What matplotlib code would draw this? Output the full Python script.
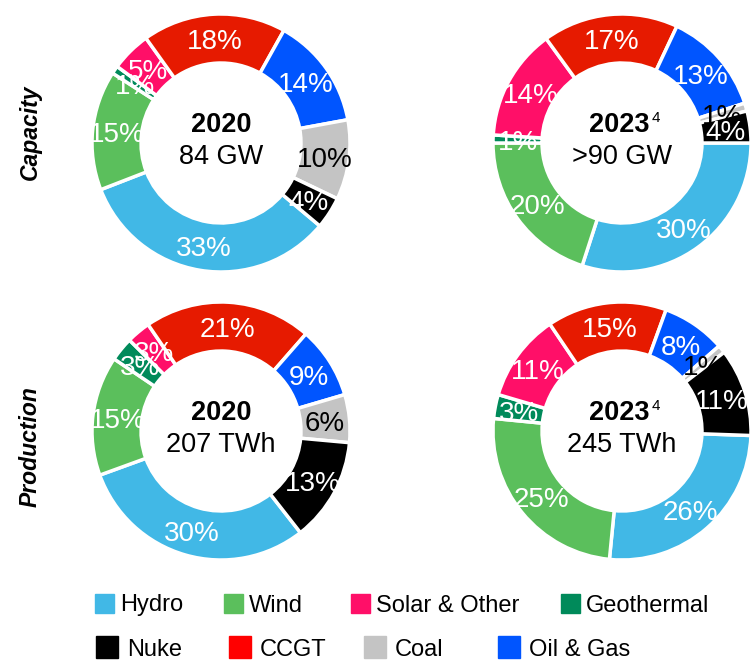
import numpy as np
import matplotlib.pyplot as plt
from matplotlib.patches import Rectangle

plt.rcParams['font.family'] = ['Liberation Sans', 'DejaVu Sans']

W, H = 751, 660

# generation mix, in %, clockwise from Hydro
sources = ['Hydro', 'Wind', 'Geothermal', 'Solar & Other', 'CCGT', 'Oil & Gas', 'Coal', 'Nuke']
colors = ['#41b8e6', '#5bbf5c', '#008a5a', '#ff0f68', '#e61a00', '#0055ff', '#c4c4c4', '#000000']
label_colors = ['white', 'white', 'white', 'white', 'white', 'white', 'black', 'white']

cap_2020 = [33, 15, 1, 5, 18, 14, 10, 4]
cap_2023 = [30, 20, 1, 14, 17, 13, 1, 4]
prod_2020 = [30, 15, 3, 3, 21, 9, 6, 13]
prod_2023 = [26, 25, 3, 11, 15, 8, 1, 11]

legend_row1 = ['Hydro', 'Wind', 'Solar & Other', 'Geothermal']
legend_row2 = ['Nuke', 'CCGT', 'Coal', 'Oil & Gas']
legend_colors = {'Hydro': '#41b8e6', 'Wind': '#5bbf5c', 'Solar & Other': '#ff0f68',
                 'Geothermal': '#008a5a', 'Nuke': '#000000', 'CCGT': '#ff0000',
                 'Coal': '#c4c4c4', 'Oil & Gas': '#0055ff'}

fig = plt.figure(figsize=(W / 100, H / 100), dpi=100)
R = 129


def donut(cx, cy, values, start, year, total, note=None):
    ax = fig.add_axes([(cx - R) / W, 1 - (cy + R) / H, 2 * R / W, 2 * R / H])
    wedges, _ = ax.pie(values, colors=colors, startangle=start, counterclock=False,
                       radius=1, wedgeprops=dict(width=0.38, edgecolor='white', linewidth=2.5))
    ax.set_xlim(-1, 1)
    ax.set_ylim(-1, 1)
    ax.axis('off')
    for w, v, tc in zip(wedges, values, label_colors):
        w.set_clip_on(False)
        a = np.deg2rad((w.theta1 + w.theta2) / 2)
        ax.text(0.81 * np.cos(a), 0.81 * np.sin(a), f'{v}%', ha='center', va='center_baseline',
                color=tc, fontsize=20)
    if note is None:
        ax.text(0, 0.085, year, ha='center', va='baseline', fontsize=19.5, fontweight='bold')
    else:
        ax.text(0.217, 0.085, year, ha='right', va='baseline', fontsize=19.5, fontweight='bold')
        ax.text(0.23, 0.16, note, ha='left', va='baseline', fontsize=11)
    ax.text(0, -0.16, total, ha='center', va='baseline', fontsize=19.5)


donut(221, 143, cap_2020, -40, '2020', '84 GW')
donut(622, 143, cap_2023, 0, '2023', '>90 GW', note='4')
donut(221, 431, prod_2020, -52, '2020', '207 TWh')
donut(622, 431, prod_2023, -2, '2023', '245 TWh', note='4')

fig.text(30 / W, 1 - 132 / H, 'Capacity', rotation=90, ha='center', va='center',
         fontsize=16.5, fontweight='bold', fontstyle='italic')
fig.text(30 / W, 1 - 447 / H, 'Production', rotation=90, ha='center', va='center',
         fontsize=16.5, fontweight='bold', fontstyle='italic')

# legend, two rows of swatches
for names, xs, cy, size, gap in [(legend_row1, [95, 224, 351, 561], 603, 19, 6),
                                 (legend_row2, [96, 229, 364, 498], 647, 22, 9)]:
    for name, x in zip(names, xs):
        fig.patches.append(Rectangle((x / W, 1 - (cy + size / 2) / H), size / W, size / H,
                                     transform=fig.transFigure, color=legend_colors[name]))
        fig.text((x + size + gap) / W, 1 - cy / H, name, ha='left', va='center_baseline',
                 fontsize=17)

fig.savefig('out.png', dpi=100)
